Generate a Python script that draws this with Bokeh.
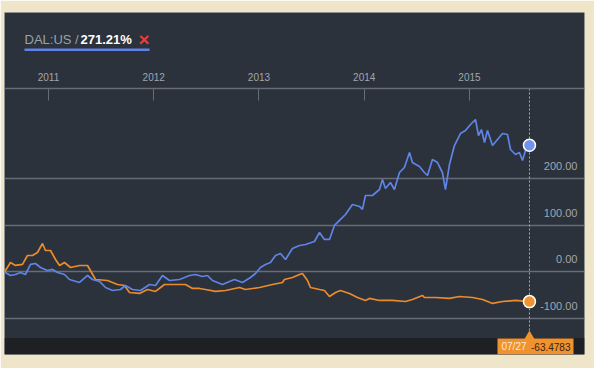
from bokeh.plotting import figure
from bokeh.models import (Range1d, LinearAxis, FixedTicker, Grid, Label,
                          BoxAnnotation, NumeralTickFormatter)
from bokeh.embed import file_html
from bokeh.resources import INLINE

# ---------------- data (percent change, time in decimal years) ----------------
ticker_name = "DAL:US"
blue_t = [2010.582, 2010.639, 2010.686, 2010.734, 2010.781, 2010.829, 2010.876, 2010.924, 2010.990, 2011.038,
          2011.086, 2011.152, 2011.200, 2011.295, 2011.371, 2011.418, 2011.485, 2011.542, 2011.608, 2011.684,
          2011.732, 2011.798, 2011.874, 2011.960, 2012.017, 2012.083, 2012.150, 2012.245, 2012.340, 2012.397,
          2012.463, 2012.511, 2012.558, 2012.653, 2012.720, 2012.767, 2012.843, 2012.919, 2012.967, 2013.014,
          2013.062, 2013.109, 2013.157, 2013.204, 2013.252, 2013.318, 2013.385, 2013.442, 2013.527, 2013.575,
          2013.622, 2013.670, 2013.717, 2013.765, 2013.822, 2013.888, 2013.955, 2013.983, 2014.012, 2014.078,
          2014.145, 2014.173, 2014.202, 2014.249, 2014.287, 2014.335, 2014.382, 2014.430, 2014.458, 2014.525,
          2014.572, 2014.601, 2014.648, 2014.696, 2014.743, 2014.772, 2014.810, 2014.857, 2014.914, 2014.962,
          2015.010, 2015.057, 2015.086, 2015.114, 2015.143, 2015.171, 2015.219, 2015.266, 2015.314, 2015.361,
          2015.390, 2015.437, 2015.475, 2015.504, 2015.532, 2015.570]
blue_v = [0, -7.5, -5.4, -1.1, -5.4, 16.1, 18.2, 9.6, 3.2, 5.4,
          -1.1, -5.4, -16.1, -22.5, -7.5, -16.1, -20.3, -33.2, -39.6, -37.5,
          -28.9, -37.5, -39.6, -26.8, -28.9, -7.5, -18.2, -16.1, -7.5, -5.4,
          -9.6, -7.5, -18.2, -26.8, -20.3, -16.1, -22.5, -11.8, -3.2, 9.6,
          16.1, 20.3, 35.3, 39.6, 26.8, 50.3, 56.7, 58.9, 65.3, 84.6,
          69.6, 69.6, 99.6, 110.3, 123.1, 144.6, 140.3, 133.9, 163.8, 163.8,
          176.6, 198.0, 178.8, 191.6, 176.6, 213.0, 223.7, 255.9, 234.4, 225.9,
          213.0, 206.6, 240.9, 234.4, 213.0, 176.6, 230.2, 270.8, 296.5, 302.9,
          315.8, 326.5, 292.2, 305.0, 277.2, 302.9, 270.8, 283.7, 296.5, 294.4,
          262.3, 251.6, 255.9, 238.7, 260.1, 271.21]

orange_t = [2010.582, 2010.639, 2010.686, 2010.753, 2010.800, 2010.848, 2010.895, 2010.943, 2010.971, 2011.019,
            2011.067, 2011.105, 2011.152, 2011.209, 2011.295, 2011.371, 2011.447, 2011.561, 2011.656, 2011.722,
            2011.770, 2011.865, 2011.941, 2012.017, 2012.102, 2012.197, 2012.302, 2012.368, 2012.435, 2012.492,
            2012.587, 2012.682, 2012.815, 2012.872, 2013.005, 2013.128, 2013.223, 2013.242, 2013.318, 2013.385,
            2013.413, 2013.461, 2013.489, 2013.575, 2013.622, 2013.670, 2013.727, 2013.774, 2013.860, 2013.936,
            2014.012, 2014.050, 2014.145, 2014.268, 2014.392, 2014.458, 2014.553, 2014.572, 2014.677, 2014.810,
            2014.905, 2015.029, 2015.124, 2015.219, 2015.314, 2015.437, 2015.570]
orange_v = [0, 20.3, 14.0, 16.1, 35.3, 35.3, 41.7, 61.0, 46.0, 46.0,
            26.8, 13.9, 20.3, 9.6, 13.9, 13.9, -16.1, -18.2, -26.8, -28.9,
            -43.9, -46.0, -37.5, -41.7, -26.8, -26.8, -26.8, -35.3, -35.3, -37.5,
            -41.7, -39.6, -33.2, -37.5, -33.2, -26.8, -22.5, -16.1, -11.8, -5.4,
            -3.2, -18.2, -33.2, -37.5, -39.6, -52.5, -43.9, -39.6, -46.0, -54.6,
            -61.0, -56.7, -61.0, -61.0, -63.2, -58.9, -50.3, -54.6, -54.6, -56.7,
            -52.5, -54.6, -58.9, -67.4, -63.2, -61.0, -63.4783]

year_ticks = [2011, 2012, 2013, 2014, 2015]
y_ticks = [-100, 0, 100, 200]
end_date_label = "07/27"

# ---------------- colours / fonts ----------------
BLUE = "#5f84e6"
ORANGE = "#ec8b2c"
PANEL = "#2b323c"
STRIP = "#1e2024"
BEIGE = "#efe5c9"
GRIDC = "#676d76"
TEXTC = "#a2a6ad"
FONT = "Liberation Sans"

# ---------------- geometry ----------------
W, H = 594, 368
ML, MR, MT, MB = 4, 10, 12, 14
FW, FH = W - ML - MR, H - MT - MB
X0, X1 = 2010.582, 2016.093
Y0, Y1 = -176.7, 555.6


def tx(px):
    """page pixel x -> data x"""
    return X0 + (px - 12) / FW * (X1 - X0)


def vy(py):
    """page pixel y -> data y"""
    return Y1 - (py - 20) / FH * (Y1 - Y0)


p = figure(width=W, height=H, x_range=Range1d(X0, X1), y_range=Range1d(Y0, Y1),
           output_backend="svg", toolbar_location=None,
           x_axis_location=None, y_axis_location=None,
           min_border_left=ML, min_border_right=MR, min_border_top=MT, min_border_bottom=MB,
           background_fill_color=PANEL, border_fill_color=BEIGE, outline_line_color=None)
p.xgrid.visible = False
p.ygrid.visible = False

# horizontal gridlines
p.add_layout(Grid(dimension=1, ticker=FixedTicker(ticks=y_ticks),
                  grid_line_color=GRIDC, grid_line_width=1.5))

# bottom dark strip
p.add_layout(BoxAnnotation(top=vy(345.5), fill_color=STRIP, fill_alpha=1, line_color=None, level="underlay"))

# top time axis (inside the panel)
xa = LinearAxis(ticker=FixedTicker(ticks=year_ticks), fixed_location=vy(96),
                axis_line_color=GRIDC, axis_line_width=1.5,
                major_tick_in=12, major_tick_out=0, major_tick_line_color=GRIDC,
                minor_tick_line_color=None,
                major_label_text_color=TEXTC, major_label_text_font_size="10px",
                major_label_text_font=FONT, major_label_standoff=8)
p.add_layout(xa, "above")

# right-side value labels, sitting above their gridlines
p.extra_y_ranges = {"lab": Range1d(Y0 - 27, Y1 - 27)}
ya = LinearAxis(y_range_name="lab", ticker=FixedTicker(ticks=y_ticks), fixed_location=tx(591),
                axis_line_color=None, major_tick_line_color=None, minor_tick_line_color=None,
                major_label_text_color=TEXTC, major_label_text_font_size="11px",
                major_label_text_font=FONT, major_label_standoff=0,
                formatter=NumeralTickFormatter(format="0.00"))
p.add_layout(ya, "left")

# series
p.line(orange_t, orange_v, line_color=ORANGE, line_width=1.7)
p.line(blue_t, blue_v, line_color=BLUE, line_width=1.7)

end_t = blue_t[-1]
# dotted crosshair
p.segment(x0=[end_t], y0=[vy(96)], x1=[end_t], y1=[vy(339)],
          line_color="#bdb34f", line_dash="2 2", line_width=1)

# end markers
p.scatter([blue_t[-1]], [blue_v[-1]], size=12, fill_color="#7093f0", line_color="white", line_width=1.5)
p.scatter([orange_t[-1]], [orange_v[-1]], size=12, fill_color="#f0922e", line_color="white", line_width=1.5)

# date / value tag at the bottom
d = 5 * (X1 - X0) / FW
p.patch([end_t - d, end_t, end_t + d], [vy(346.5), vy(338), vy(346.5)],
        fill_color="#f0922e", line_color=None)
p.add_layout(BoxAnnotation(left=tx(505), right=tx(581), top=vy(346), fill_color="#f0922e",
                           fill_alpha=1, line_color=None))
p.add_layout(Label(x=tx(509), y=vy(354), text=end_date_label, text_baseline="middle",
                   text_color="#fdebd2", text_font_size="10px", text_font=FONT))
p.add_layout(Label(x=tx(538.5), y=vy(354), text=f"{orange_v[-1]:.4f}", text_baseline="middle",
                   text_color="#3a2510", text_font_size="10px", text_font=FONT))

# header
p.add_layout(Label(x=tx(32), y=vy(47), text=f"{ticker_name} /", text_baseline="middle",
                   text_color="#9ca1a9", text_font_size="13px", text_font=FONT))
p.add_layout(Label(x=tx(88), y=vy(47), text=f"{blue_v[-1]:.2f}%", text_baseline="middle",
                   text_color="#ffffff", text_font_size="13px", text_font=FONT,
                   text_font_style="bold"))
p.add_layout(Label(x=tx(146), y=vy(46.5), text="\u00d7", text_baseline="middle",
                   text_color="#e0403c", text_font_size="19px", text_font=FONT,
                   text_font_style="bold"))
p.add_layout(BoxAnnotation(left=tx(32), right=tx(157), top=vy(56), bottom=vy(58.5),
                           fill_color=BLUE, fill_alpha=1, line_color=None))

open("out.html", "w").write(file_html(p, INLINE))
